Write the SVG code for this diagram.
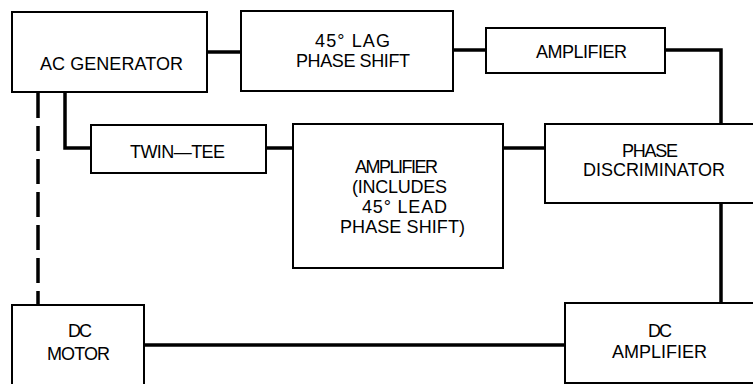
<svg xmlns="http://www.w3.org/2000/svg" width="753" height="384" viewBox="0 0 753 384">
<style>
.box{fill:#fff;stroke:#000;stroke-width:2}
.wire{fill:none;stroke:#000;stroke-width:3.5}
.dash{fill:none;stroke:#000;stroke-width:3.5;stroke-dasharray:25 8}
text{font-family:"Liberation Sans",Arial,sans-serif;font-size:18px;fill:#000}
</style>
<rect width="753" height="384" fill="#fff"/>
<g id="connectors">
<path class="wire" d="M207,52 H241"/>
<path class="wire" d="M453,50 H486"/>
<path class="wire" d="M665,50 H721 V124"/>
<path class="wire" d="M721,203 V303"/>
<path class="wire" d="M144,345 H565"/>
<path class="wire" d="M65,92 V148 H91"/>
<path class="wire" d="M266,148 H293"/>
<path class="wire" d="M503,148 H545"/>
<path class="dash" d="M38,93 V305"/>
</g>
<g id="ac-generator">
<rect class="box" x="12" y="12" width="195" height="80"/>
<text x="40" y="70" textLength="143">AC GENERATOR</text>
</g>
<g id="lag-phase-shift">
<rect class="box" x="241" y="11" width="212" height="80"/>
<text x="315" y="47" textLength="75">45° LAG</text>
<text x="296" y="67" textLength="114">PHASE SHIFT</text>
</g>
<g id="amplifier-top">
<rect class="box" x="486" y="28" width="179" height="45"/>
<text x="536" y="58" textLength="91">AMPLIFIER</text>
</g>
<g id="twin-tee">
<rect class="box" x="91" y="125" width="175" height="48"/>
<text x="130" y="158" textLength="95">TWIN—TEE</text>
</g>
<g id="amplifier-lead">
<rect class="box" x="293" y="124" width="210" height="144"/>
<text x="355" y="173" textLength="83">AMPLIFIER</text>
<text x="352" y="193" textLength="95">(INCLUDES</text>
<text x="362" y="213" textLength="85">45° LEAD</text>
<text x="340" y="233" textLength="125">PHASE SHIFT)</text>
</g>
<g id="phase-discriminator">
<rect class="box" x="545" y="124" width="215" height="79"/>
<text x="622" y="157" textLength="56">PHASE</text>
<text x="583" y="176" textLength="142">DISCRIMINATOR</text>
</g>
<g id="dc-motor">
<rect class="box" x="12" y="305" width="132" height="90"/>
<text x="68" y="337" textLength="24">DC</text>
<text x="47" y="360" textLength="63">MOTOR</text>
</g>
<g id="dc-amplifier">
<rect class="box" x="565" y="303" width="195" height="80"/>
<text x="648" y="337" textLength="24">DC</text>
<text x="612" y="358" textLength="95">AMPLIFIER</text>
</g>
</svg>
